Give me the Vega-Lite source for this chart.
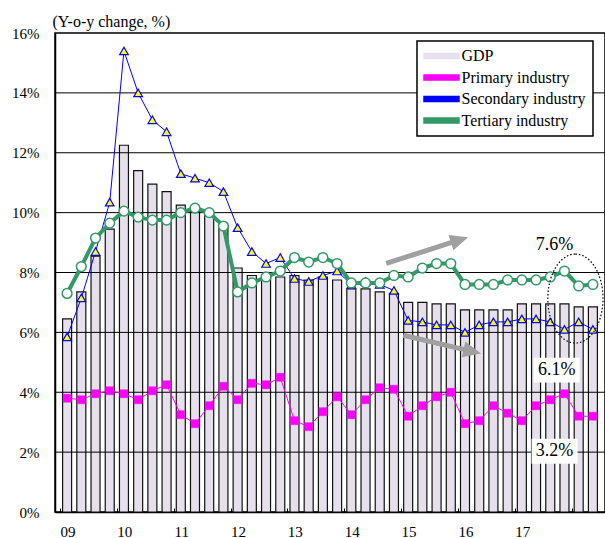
{
  "$schema": "https://vega.github.io/schema/vega-lite/v6.json",
  "width": 550,
  "height": 479,
  "autosize": {"type": "none"},
  "padding": {"left": 55, "top": 33, "right": 0, "bottom": 26},
  "background": "white",
  "config": {
    "view": {"stroke": "black", "strokeWidth": 1.5},
    "font": "Liberation Serif",
    "legend": {
      "title": null,
      "orient": "none", "legendX": 362, "legendY": 8,
      "direction": "vertical",
      "fillColor": "white", "strokeColor": "black", "strokeWidth": 1.5,
      "padding": 7, "rowPadding": 5.5, "labelOffset": 12, "symbolOffset": 9.5,
      "symbolSize": 100,
      "labelFont": "Liberation Serif", "labelFontSize": 16, "labelColor": "black", "labelLimit": 0
    }
  },
  "datasets": {
    "series": [
      {"t": 0, "quarter": "2009Q1", "gdp": 6.45, "primary": 3.8, "secondary": 5.85, "tertiary": 7.3},
      {"t": 1, "quarter": "2009Q2", "gdp": 7.35, "primary": 3.75, "secondary": 7.15, "tertiary": 8.2},
      {"t": 2, "quarter": "2009Q3", "gdp": 8.55, "primary": 3.95, "secondary": 8.7, "tertiary": 9.15},
      {"t": 3, "quarter": "2009Q4", "gdp": 9.45, "primary": 4.05, "secondary": 10.35, "tertiary": 9.65},
      {"t": 4, "quarter": "2010Q1", "gdp": 12.25, "primary": 3.95, "secondary": 15.4, "tertiary": 10.05},
      {"t": 5, "quarter": "2010Q2", "gdp": 11.4, "primary": 3.75, "secondary": 14.0, "tertiary": 9.85},
      {"t": 6, "quarter": "2010Q3", "gdp": 10.95, "primary": 4.05, "secondary": 13.1, "tertiary": 9.75},
      {"t": 7, "quarter": "2010Q4", "gdp": 10.7, "primary": 4.25, "secondary": 12.7, "tertiary": 9.75},
      {"t": 8, "quarter": "2011Q1", "gdp": 10.25, "primary": 3.25, "secondary": 11.3, "tertiary": 10.0},
      {"t": 9, "quarter": "2011Q2", "gdp": 10.1, "primary": 2.95, "secondary": 11.15, "tertiary": 10.15},
      {"t": 10, "quarter": "2011Q3", "gdp": 9.95, "primary": 3.55, "secondary": 11.0, "tertiary": 10.0},
      {"t": 11, "quarter": "2011Q4", "gdp": 9.55, "primary": 4.2, "secondary": 10.7, "tertiary": 9.55},
      {"t": 12, "quarter": "2012Q1", "gdp": 8.15, "primary": 3.75, "secondary": 9.5, "tertiary": 7.35},
      {"t": 13, "quarter": "2012Q2", "gdp": 7.9, "primary": 4.3, "secondary": 8.7, "tertiary": 7.65},
      {"t": 14, "quarter": "2012Q3", "gdp": 7.85, "primary": 4.25, "secondary": 8.3, "tertiary": 7.85},
      {"t": 15, "quarter": "2012Q4", "gdp": 7.85, "primary": 4.5, "secondary": 8.5, "tertiary": 8.05},
      {"t": 16, "quarter": "2013Q1", "gdp": 7.9, "primary": 3.05, "secondary": 7.8, "tertiary": 8.5},
      {"t": 17, "quarter": "2013Q2", "gdp": 7.75, "primary": 2.85, "secondary": 7.7, "tertiary": 8.35},
      {"t": 18, "quarter": "2013Q3", "gdp": 7.85, "primary": 3.35, "secondary": 7.9, "tertiary": 8.5},
      {"t": 19, "quarter": "2013Q4", "gdp": 7.75, "primary": 3.85, "secondary": 8.05, "tertiary": 8.3},
      {"t": 20, "quarter": "2014Q1", "gdp": 7.45, "primary": 3.25, "secondary": 7.6, "tertiary": 7.65},
      {"t": 21, "quarter": "2014Q2", "gdp": 7.45, "primary": 3.75, "secondary": 7.7, "tertiary": 7.65},
      {"t": 22, "quarter": "2014Q3", "gdp": 7.35, "primary": 4.15, "secondary": 7.6, "tertiary": 7.65},
      {"t": 23, "quarter": "2014Q4", "gdp": 7.3, "primary": 4.1, "secondary": 7.4, "tertiary": 7.9},
      {"t": 24, "quarter": "2015Q1", "gdp": 7.0, "primary": 3.2, "secondary": 6.4, "tertiary": 7.85},
      {"t": 25, "quarter": "2015Q2", "gdp": 7.0, "primary": 3.55, "secondary": 6.35, "tertiary": 8.15},
      {"t": 26, "quarter": "2015Q3", "gdp": 6.95, "primary": 3.85, "secondary": 6.25, "tertiary": 8.3},
      {"t": 27, "quarter": "2015Q4", "gdp": 6.95, "primary": 4.0, "secondary": 6.25, "tertiary": 8.3},
      {"t": 28, "quarter": "2016Q1", "gdp": 6.75, "primary": 2.95, "secondary": 6.0, "tertiary": 7.6},
      {"t": 29, "quarter": "2016Q2", "gdp": 6.75, "primary": 3.05, "secondary": 6.25, "tertiary": 7.6},
      {"t": 30, "quarter": "2016Q3", "gdp": 6.75, "primary": 3.55, "secondary": 6.35, "tertiary": 7.6},
      {"t": 31, "quarter": "2016Q4", "gdp": 6.75, "primary": 3.3, "secondary": 6.35, "tertiary": 7.75},
      {"t": 32, "quarter": "2017Q1", "gdp": 6.95, "primary": 3.05, "secondary": 6.45, "tertiary": 7.75},
      {"t": 33, "quarter": "2017Q2", "gdp": 6.95, "primary": 3.55, "secondary": 6.45, "tertiary": 7.75},
      {"t": 34, "quarter": "2017Q3", "gdp": 6.95, "primary": 3.75, "secondary": 6.35, "tertiary": 7.85},
      {"t": 35, "quarter": "2017Q4", "gdp": 6.95, "primary": 3.95, "secondary": 6.1, "tertiary": 8.05},
      {"t": 36, "quarter": "2018Q1", "gdp": 6.85, "primary": 3.2, "secondary": 6.35, "tertiary": 7.55},
      {"t": 37, "quarter": "2018Q2", "gdp": 6.85, "primary": 3.2, "secondary": 6.1, "tertiary": 7.6}
    ],
    "grid": [{"g": 2}, {"g": 4}, {"g": 6}, {"g": 8}, {"g": 10}, {"g": 12}, {"g": 14}],
    "trends": [
      {"trend": "up", "t": 25.34, "v": 8.74},
      {"trend": "down", "t": 26.39, "v": 5.6}
    ],
    "highlight": [{"t": 35.77, "v": 7.13}],
    "callouts": [
      {"series": "Tertiary industry", "label": "7.6%", "t": 34.3, "v": 8.92},
      {"series": "Secondary industry", "label": "6.1%", "t": 34.45, "v": 4.74},
      {"series": "Primary industry", "label": "3.2%", "t": 34.3, "v": 2.03}
    ]
  },
  "layer": [
    {
      "data": {"name": "series"},
      "mark": {"type": "bar", "size": 9, "stroke": "#111111", "strokeWidth": 1.2},
      "encoding": {
        "x": {
          "field": "t", "type": "quantitative", "title": null,
          "scale": {"domain": [-0.5, 37.5], "nice": false, "zero": false},
          "axis": {
            "values": [-0.5, 0.5, 1.5, 2.5, 3.5, 4.5, 5.5, 6.5, 7.5, 8.5, 9.5, 10.5, 11.5, 12.5, 13.5, 14.5, 15.5, 16.5, 17.5, 18.5, 19.5, 20.5, 21.5, 22.5, 23.5, 24.5, 25.5, 26.5, 27.5, 28.5, 29.5, 30.5, 31.5, 32.5, 33.5, 34.5, 35.5, 36.5, 37.5],
            "labelExpr": "(datum.value + 0.5) % 4 == 0 && datum.value < 33 ? slice('0' + (9 + (datum.value + 0.5) / 4), -2) : ''",
            "tickSize": -4, "tickColor": "black", "tickWidth": 1,
            "labelOffset": 7.5, "labelFlush": false, "labelOverlap": false, "labelBound": false,
            "labelPadding": 16, "grid": false,
            "domainColor": "black", "domainWidth": 1.5,
            "labelFont": "Liberation Serif", "labelFontSize": 15, "labelColor": "black"
          }
        },
        "y": {
          "field": "gdp", "type": "quantitative", "title": "(Y-o-y change, %)",
          "scale": {"domain": [0, 16], "nice": false},
          "axis": {
            "values": [0, 2, 4, 6, 8, 10, 12, 14, 16],
            "labelExpr": "datum.value + '%'",
            "grid": false, "ticks": false,
            "domainColor": "black", "domainWidth": 1.5,
            "labelFont": "Liberation Serif", "labelFontSize": 15, "labelColor": "black", "labelPadding": 16,
            "title": "(Y-o-y change, %)",
            "titleAngle": 0, "titleAlign": "left", "titleBaseline": "middle",
            "titleX": -3, "titleY": -12,
            "titleFont": "Liberation Serif", "titleFontSize": 16, "titleFontWeight": "normal", "titleColor": "black"
          }
        },
        "color": {
          "datum": "GDP",
          "scale": {
            "domain": ["GDP", "Primary industry", "Secondary industry", "Tertiary industry"],
            "range": ["#E6E0EC", "#FF00FF", "#0000FF", "#339966"]
          },
          "legend": {
            "symbolType": "M-3.5,-0.5L3.5,-0.5L3.5,0.5L-3.5,0.5Z"
          }
        }
      }
    },
    {
      "data": {"name": "grid"},
      "mark": {"type": "rule", "stroke": "black", "strokeWidth": 1},
      "encoding": {
        "y": {"field": "g", "type": "quantitative", "title": "(Y-o-y change, %)"}
      }
    },
    {
      "data": {"name": "series"},
      "mark": {"type": "line", "strokeWidth": 1},
      "encoding": {
        "x": {"field": "t", "type": "quantitative", "title": null},
        "y": {"field": "primary", "type": "quantitative", "title": "(Y-o-y change, %)"},
        "color": {"datum": "Primary industry", "legend": null}
      }
    },
    {
      "data": {"name": "series"},
      "mark": {"type": "point", "shape": "square", "filled": true, "fill": "#FF00FF", "stroke": "#FF00FF", "strokeWidth": 0.5, "size": 64, "opacity": 1},
      "encoding": {
        "x": {"field": "t", "type": "quantitative", "title": null},
        "y": {"field": "primary", "type": "quantitative", "title": "(Y-o-y change, %)"}
      }
    },
    {
      "data": {"name": "series"},
      "mark": {"type": "line", "strokeWidth": 1},
      "encoding": {
        "x": {"field": "t", "type": "quantitative", "title": null},
        "y": {"field": "secondary", "type": "quantitative", "title": "(Y-o-y change, %)"},
        "color": {"datum": "Secondary industry", "legend": null}
      }
    },
    {
      "data": {"name": "series"},
      "mark": {"type": "point", "shape": "triangle-up", "filled": true, "fill": "#FFFF00", "stroke": "#0000FF", "strokeWidth": 1.2, "size": 75, "opacity": 1},
      "encoding": {
        "x": {"field": "t", "type": "quantitative", "title": null},
        "y": {"field": "secondary", "type": "quantitative", "title": "(Y-o-y change, %)"}
      }
    },
    {
      "data": {"name": "series"},
      "mark": {"type": "line", "strokeWidth": 4},
      "encoding": {
        "x": {"field": "t", "type": "quantitative", "title": null},
        "y": {"field": "tertiary", "type": "quantitative", "title": "(Y-o-y change, %)"},
        "color": {"datum": "Tertiary industry", "legend": null}
      }
    },
    {
      "data": {"name": "series"},
      "mark": {"type": "point", "shape": "circle", "filled": true, "fill": "white", "stroke": "#339966", "strokeWidth": 1.5, "size": 95, "opacity": 1},
      "encoding": {
        "x": {"field": "t", "type": "quantitative", "title": null},
        "y": {"field": "tertiary", "type": "quantitative", "title": "(Y-o-y change, %)"}
      }
    },
    {
      "data": {"name": "trends"},
      "transform": [{"filter": "datum.trend === 'up'"}],
      "mark": {"type": "point", "shape": "M-1,-0.058L0.58,-0.058L0.58,-0.186L1,0L0.58,0.186L0.58,0.058L-1,0.058Z", "filled": true, "fill": "#A0A0A0", "strokeWidth": 0, "size": 7396, "angle": -17.8, "opacity": 1},
      "encoding": {
        "x": {"field": "t", "type": "quantitative", "title": null},
        "y": {"field": "v", "type": "quantitative", "title": "(Y-o-y change, %)"}
      }
    },
    {
      "data": {"name": "trends"},
      "transform": [{"filter": "datum.trend === 'down'"}],
      "mark": {"type": "point", "shape": "M-1,-0.062L0.55,-0.062L0.55,-0.2L1,0L0.55,0.2L0.55,0.062L-1,0.062Z", "filled": true, "fill": "#A0A0A0", "strokeWidth": 0, "size": 6400, "angle": 13.2, "opacity": 1},
      "encoding": {
        "x": {"field": "t", "type": "quantitative", "title": null},
        "y": {"field": "v", "type": "quantitative", "title": "(Y-o-y change, %)"}
      }
    },
    {
      "data": {"name": "highlight"},
      "mark": {"type": "point", "shape": "M0,-1A0.62,1 0 1,1 0,1A0.62,1 0 1,1 0,-1Z", "filled": false, "stroke": "black", "strokeWidth": 1.2, "strokeDash": [1.5, 2], "size": 7921, "opacity": 1},
      "encoding": {
        "x": {"field": "t", "type": "quantitative", "title": null},
        "y": {"field": "v", "type": "quantitative", "title": "(Y-o-y change, %)"}
      }
    },
    {
      "data": {"name": "callouts"},
      "transform": [{"filter": "datum.series !== 'Tertiary industry'"}],
      "mark": {"type": "point", "shape": "M-1,-0.54L1,-0.54L1,0.54L-1,0.54Z", "filled": true, "fill": "white", "strokeWidth": 0, "size": 2116, "opacity": 1},
      "encoding": {
        "x": {"field": "t", "type": "quantitative", "title": null},
        "y": {"field": "v", "type": "quantitative", "title": "(Y-o-y change, %)"}
      }
    },
    {
      "data": {"name": "callouts"},
      "mark": {"type": "text", "font": "Liberation Serif", "fontSize": 18, "color": "black", "align": "center", "baseline": "middle"},
      "encoding": {
        "x": {"field": "t", "type": "quantitative", "title": null},
        "y": {"field": "v", "type": "quantitative", "title": "(Y-o-y change, %)"},
        "text": {"field": "label"}
      }
    }
  ]
}
